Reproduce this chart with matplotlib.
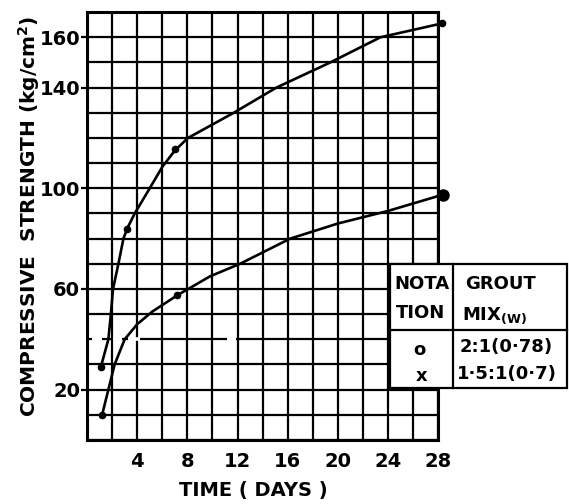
import matplotlib
matplotlib.use("Agg")
import matplotlib.pyplot as plt
import matplotlib.patches as mpatches

# curve (days, kg/cm2)
upper_days = [1.1, 1.7, 1.9, 2.07, 2.5, 2.9, 3.2, 3.8, 5.0, 6.0, 7.0, 8.05, 11.7, 15.1, 19.4, 23.4, 28.3]
upper_str = [29, 40, 50, 60, 70, 80, 84, 90, 100, 108.5, 115, 120, 130, 140, 150, 160, 165.5]
upper_pts_days = [1.1, 3.2, 7.0, 28.3]
upper_pts_str = [29, 84, 115.5, 165.5]

lower_days = [1.2, 1.7, 2.2, 3.0, 4.0, 5.2, 7.2, 9.8, 12.2, 16.2, 20.0, 24.0, 28.4]
lower_str = [10, 20, 30, 40, 46, 51, 57.5, 65, 70, 80, 86, 91, 97.5]
lower_pts_days = [1.2, 7.2]
lower_pts_str = [10, 57.5]
lower_end = (28.4, 97.5)

x_ticks = [4, 8, 12, 16, 20, 24, 28]
y_ticks = [20, 60, 100, 140, 160]

notation = ["o", "x"]
grout_mix = ["2:1(0\u00b778)", "1\u00b75:1(0\u00b77)"]

# breaks in the scanned grid line at 40
gaps_40 = [(0.4, 1.2), (2.1, 2.8), (3.3, 4.2), (11.2, 11.9)]

plt.rcParams["font.family"] = ["DejaVu Sans"]
plt.rcParams["font.weight"] = "bold"
plt.rcParams["axes.labelweight"] = "bold"
plt.rcParams["mathtext.fontset"] = "dejavusans"

fig = plt.figure(figsize=(5.69, 5.04), dpi=100)
ax = fig.add_axes([0.153, 0.127, 0.617, 0.849])
ax.set_xlim(0, 28)
ax.set_ylim(0, 170)

ax.set_xticks(x_ticks)
ax.set_xticks(range(0, 29, 2), minor=True)
ax.set_yticks(y_ticks)
ax.set_yticks(range(0, 171, 10), minor=True)
ax.grid(True, which="both", color="black", linewidth=1.6, zorder=1)
ax.set_axisbelow(True)
ax.tick_params(axis="x", which="both", length=0, pad=9, labelsize=14)
ax.tick_params(axis="y", which="major", length=4, width=1.6, pad=1, labelsize=14)
ax.tick_params(axis="y", which="minor", length=0)
for s in ax.spines.values():
    s.set_linewidth(2.2)

for a, b in gaps_40:
    ax.plot([a, b], [40, 40], color="white", linewidth=2.6, zorder=2, solid_capstyle="butt")

ax.plot(upper_days, upper_str, color="black", linewidth=1.9, zorder=3, clip_on=False)
ax.plot(upper_pts_days, upper_pts_str, "o", color="black", markersize=4.5, zorder=4, clip_on=False)
ax.plot(lower_days, lower_str, color="black", linewidth=1.9, zorder=3, clip_on=False)
ax.plot(lower_pts_days, lower_pts_str, "o", color="black", markersize=4.5, zorder=4, clip_on=False)
ax.plot(*lower_end, "o", color="black", markersize=8, zorder=4, clip_on=False)

ax.set_xlabel("TIME ( DAYS )", fontsize=14)
ax.xaxis.set_label_coords(0.473, -0.095)
ax.set_ylabel(r"COMPRESSIVE  STRENGTH (kg/cm$^{\mathbf{2}}$)", fontsize=14.5)
ax.yaxis.set_label_coords(-0.128, 0.523)

# notation table drawn over the grid
box = mpatches.Rectangle((24.2, 20.5), 14.1, 49.5, facecolor="white", edgecolor="black",
                         linewidth=1.6, zorder=5, clip_on=False)
ax.add_patch(box)
ax.plot([29.2, 29.2], [20.5, 70], color="black", linewidth=1.6, zorder=6, clip_on=False)
ax.plot([24.2, 38.3], [43.7, 43.7], color="black", linewidth=1.6, zorder=6, clip_on=False)

tkw = dict(ha="center", va="center", fontsize=13, zorder=7)
ax.text(26.7, 61.9, "NOTA", **tkw)
ax.text(26.6, 50.5, "TION", **tkw)
ax.text(33.0, 61.9, "GROUT", **tkw)
ax.text(32.5, 49.5, r"MIX$_{\mathbf{(W)}}$", **tkw)
ax.text(26.5, 35.7, notation[0], **tkw)
ax.text(26.7, 25.5, notation[1], **tkw)
ax.text(33.4, 36.9, grout_mix[0], **tkw)
ax.text(33.5, 26.2, grout_mix[1], **tkw)

fig.savefig("out.png", dpi=100, facecolor="white")
